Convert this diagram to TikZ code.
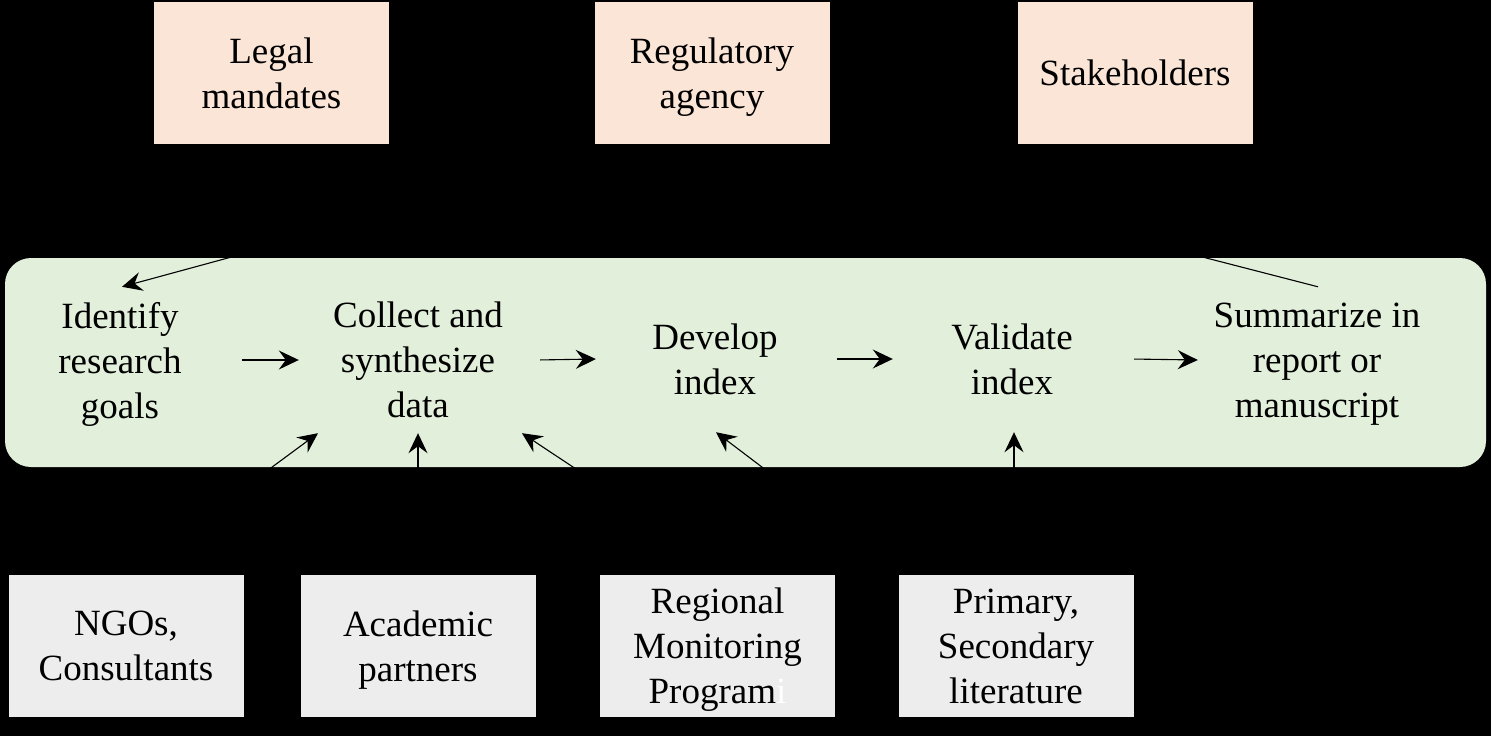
\documentclass[tikz,border=0pt]{standalone}
\usepackage{fontspec}
\setmainfont{Liberation Serif}
\usetikzlibrary{arrows.meta}
\definecolor{peach}{HTML}{FBE5D6}
\definecolor{panel}{HTML}{E2EFDA}
\definecolor{greybox}{HTML}{EDEDED}
\tikzset{
  srcbox/.style={draw=none, fill=#1, minimum width=235pt, minimum height=142pt, inner sep=0pt, align=center, text depth=0pt, font=\fontsize{37}{45}\selectfont},
  stepbox/.style={inner sep=0pt, minimum width=238pt, minimum height=146pt, align=center, text depth=0pt, font=\fontsize{37}{45}\selectfont},
  conn/.style={draw=black, line width=1.1pt, shorten <=3pt},
  arr/.style={conn, -{Stealth[length=20pt,width=19pt,inset=7pt]}},
}
\begin{document}
\begin{tikzpicture}[x=1pt,y=-1pt]
\useasboundingbox (0,0) rectangle (1491,736);
\fill[black] (0,0) rectangle (1491,736);
\fill[panel, rounded corners=26pt] (5,258) rectangle (1486,467);
% top boxes
\node[srcbox=peach] (legal) at (271.5,73) {Legal\\mandates};
\node[srcbox=peach] (reg) at (712,73) {Regulatory\\agency};
\node[srcbox=peach] (stake) at (1135,73) {Stakeholders};
% steps
\node[stepbox] (identify) at (120,360) {Identify\\research\\goals};
\node[stepbox] (collect) at (418,360) {Collect and\\synthesize\\data};
\node[stepbox] (develop) at (715,359) {Develop\\index};
\node[stepbox] (validate) at (1012,359) {Validate\\index};
\node[stepbox] (summ) at (1317,360) {Summarize in\\report or\\manuscript};
% bottom boxes
\node[srcbox=greybox] (ngo) at (126,646) {NGOs,\\Consultants};
\node[srcbox=greybox] (acad) at (418,646) {Academic\\partners};
\node[srcbox=greybox] (regmon) at (717.5,646) {Regional\\Monitoring\\Program\textcolor{white}{i}};
\node[srcbox=greybox] (prim) at (1016,646) {Primary,\\Secondary\\literature};
% horizontal flow
\draw[arr] (identify.east) -- (collect.west);
\draw[arr] (collect.east) -- (develop.west);
\draw[arr] (develop.east) -- (validate.west);
\draw[arr] (validate.east) -- (summ.west);
% top connectors
\draw[arr] ([xshift=-66pt]reg.south) -- ([xshift=2pt]identify.north);
\draw[conn] ([xshift=53pt]reg.south) -- ([xshift=1pt]summ.north);
% bottom connectors
\draw[arr] (ngo.north) -- ([xshift=-100pt]collect.south);
\draw[arr] (acad.north) -- (collect.south);
\draw[arr] ([xshift=18pt]regmon.north) -- ([xshift=104pt]collect.south);
\draw[arr] ([xshift=-112pt]prim.north) -- ([xshift=1pt]develop.south);
\draw[arr] ([xshift=-2pt]prim.north) -- ([xshift=-2pt]prim.north |- validate.south);
\end{tikzpicture}
\end{document}
